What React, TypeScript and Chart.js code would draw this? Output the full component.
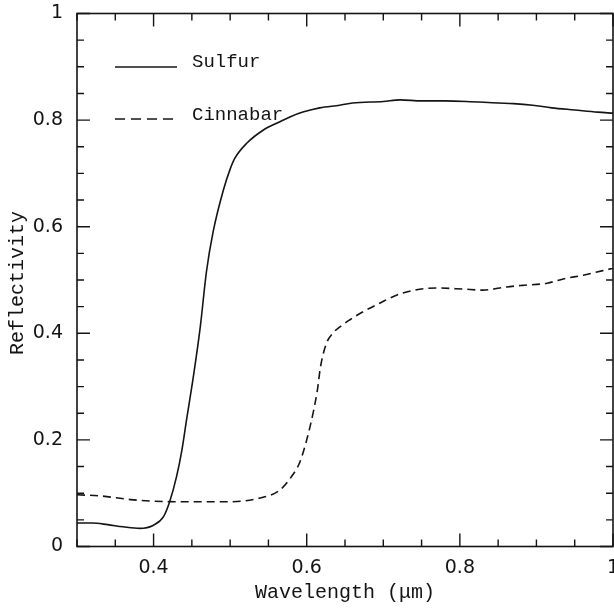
import React, { useEffect, useRef } from "react";
import { Chart, registerables } from "chart.js";

Chart.register(...registerables);

const sulfurWavelength = [
  0.3, 0.32, 0.34, 0.36, 0.382, 0.4, 0.413, 0.421, 0.43, 0.437, 0.443, 0.452,
  0.461, 0.469, 0.478, 0.491, 0.5, 0.506, 0.522, 0.543, 0.565, 0.578, 0.595,
  0.617, 0.643, 0.66, 0.7, 0.722, 0.75, 0.78, 0.809, 0.85, 0.87, 0.895, 0.92,
  0.95, 0.98, 1.0,
];
const sulfurReflectivity = [
  0.044, 0.044, 0.041, 0.037, 0.034, 0.04, 0.056, 0.084, 0.131, 0.181, 0.237,
  0.319, 0.412, 0.515, 0.592, 0.668, 0.708, 0.728, 0.757, 0.781, 0.797, 0.806,
  0.815, 0.823, 0.828, 0.832, 0.835, 0.838, 0.836, 0.836, 0.835, 0.832, 0.831,
  0.828, 0.823, 0.819, 0.815, 0.813,
];

const cinnabarWavelength = [
  0.3, 0.33, 0.37, 0.4, 0.45, 0.5, 0.539, 0.565, 0.582, 0.591, 0.6, 0.609,
  0.614, 0.618, 0.626, 0.634, 0.646, 0.656, 0.673, 0.696, 0.718, 0.741, 0.77,
  0.804, 0.83, 0.861, 0.882, 0.914, 0.935, 0.961, 0.979, 1.0,
];
const cinnabarReflectivity = [
  0.097, 0.095, 0.088, 0.085, 0.084, 0.084, 0.091, 0.106, 0.135, 0.158, 0.2,
  0.255, 0.294, 0.337, 0.382, 0.4, 0.415, 0.425, 0.44, 0.457, 0.472, 0.481,
  0.485, 0.483, 0.481, 0.487, 0.49, 0.494, 0.502, 0.509, 0.515, 0.522,
];

const xMajorTicks = [0.4, 0.6, 0.8, 1.0];
const yMajorTicks = [0, 0.2, 0.4, 0.6, 0.8, 1.0];
const minorStep = 0.05;
const seriesNames = ["Sulfur", "Cinnabar"];
const xTitle = "Wavelength (\u03bcm)";
const yTitle = "Reflectivity";

const INK = "#141414";
const MONO = "'Liberation Mono', 'DejaVu Sans Mono', monospace";
const SANS = "'DejaVu Sans', sans-serif";

const zeroPad = (s: any) => {
  s.paddingLeft = 0;
  s.paddingRight = 0;
  s.paddingTop = 0;
  s.paddingBottom = 0;
};

const framePlugin = {
  id: "frame",
  afterDraw(chart: any) {
    const { ctx, chartArea: a } = chart;
    const xs = chart.scales.x;
    const ys = chart.scales.y;
    ctx.save();
    ctx.strokeStyle = INK;
    ctx.lineWidth = 1.6;
    ctx.strokeRect(a.left, a.top, a.right - a.left, a.bottom - a.top);
    ctx.lineWidth = 1.4;
    const isMajor = (v: number, majors: number[]) =>
      majors.some((m) => Math.abs(m - v) < 1e-6);
    for (let i = 0; ; i++) {
      const v = xs.min + i * minorStep;
      if (v > xs.max + 1e-6) break;
      const px = xs.getPixelForValue(v);
      const len = isMajor(v, xMajorTicks) ? 13 : 7;
      ctx.beginPath();
      ctx.moveTo(px, a.bottom);
      ctx.lineTo(px, a.bottom - len);
      ctx.moveTo(px, a.top);
      ctx.lineTo(px, a.top + len);
      ctx.stroke();
    }
    for (let i = 0; ; i++) {
      const v = ys.min + i * minorStep;
      if (v > ys.max + 1e-6) break;
      const py = ys.getPixelForValue(v);
      const len = isMajor(v, yMajorTicks) ? 13 : 7;
      ctx.beginPath();
      ctx.moveTo(a.left, py);
      ctx.lineTo(a.left + len, py);
      ctx.moveTo(a.right, py);
      ctx.lineTo(a.right - len, py);
      ctx.stroke();
    }
    ctx.fillStyle = INK;
    ctx.font = `20px ${MONO}`;
    ctx.textAlign = "center";
    ctx.textBaseline = "middle";
    ctx.fillText(xTitle, (a.left + a.right) / 2, 593);
    ctx.save();
    ctx.translate(18, (a.top + a.bottom) / 2 + 3);
    ctx.rotate(-Math.PI / 2);
    ctx.fillText(yTitle, 0, 0);
    ctx.restore();
    const legendRows = [
      { y: 67, dash: [] as number[], textY: 62 },
      { y: 119, dash: [10, 6], textY: 115 },
    ];
    ctx.font = `19px ${MONO}`;
    ctx.textAlign = "left";
    legendRows.forEach((row, i) => {
      ctx.save();
      ctx.lineWidth = 1.4;
      ctx.setLineDash(row.dash);
      ctx.beginPath();
      ctx.moveTo(115, row.y);
      ctx.lineTo(177, row.y);
      ctx.stroke();
      ctx.restore();
      ctx.fillText(seriesNames[i], 192, row.textY);
    });
    ctx.restore();
  },
};

export default function App() {
  const ref = useRef<HTMLCanvasElement | null>(null);
  useEffect(() => {
    if (!ref.current) return;
    const chart = new Chart(ref.current, {
      type: "line",
      data: {
        datasets: [
          {
            label: seriesNames[0],
            data: sulfurWavelength.map((x, i) => ({ x, y: sulfurReflectivity[i] })),
            borderColor: INK,
            borderWidth: 1.6,
            pointRadius: 0,
            cubicInterpolationMode: "monotone",
            fill: false,
          },
          {
            label: seriesNames[1],
            data: cinnabarWavelength.map((x, i) => ({ x, y: cinnabarReflectivity[i] })),
            borderColor: INK,
            borderWidth: 1.6,
            borderDash: [8, 5],
            pointRadius: 0,
            cubicInterpolationMode: "monotone",
            fill: false,
          },
        ],
      },
      options: {
        animation: false,
        responsive: true,
        maintainAspectRatio: false,
        layout: { padding: { top: 13.5, right: 1, left: 0, bottom: 0 } },
        plugins: { legend: { display: false }, tooltip: { enabled: false } },
        scales: {
          x: {
            type: "linear",
            min: 0.3,
            max: 1.0,
            afterBuildTicks: (s: any) => {
              s.ticks = xMajorTicks.map((v) => ({ value: v }));
            },
            afterFit: (s: any) => {
              s.height = 61.5;
              zeroPad(s);
            },
            grid: { display: false, drawTicks: false },
            border: { display: false },
            ticks: {
              color: INK,
              padding: 10,
              maxRotation: 0,
              autoSkip: false,
              font: { family: SANS, size: 19 },
              callback: (v: any) => String(Math.round(Number(v) * 10) / 10),
            },
          },
          y: {
            type: "linear",
            min: 0,
            max: 1,
            afterBuildTicks: (s: any) => {
              s.ticks = yMajorTicks.map((v) => ({ value: v }));
            },
            afterFit: (s: any) => {
              s.width = 77;
              zeroPad(s);
            },
            grid: { display: false, drawTicks: false },
            border: { display: false },
            ticks: {
              color: INK,
              padding: 14,
              autoSkip: false,
              font: { family: SANS, size: 19 },
              callback: (v: any) => String(Math.round(Number(v) * 10) / 10),
            },
          },
        },
      },
      plugins: [framePlugin],
    });
    return () => chart.destroy();
  }, []);
  return (
    <div
      style={{
        position: "fixed",
        left: 0,
        top: 0,
        width: 614,
        height: 608,
        background: "#fff",
      }}
    >
      <canvas ref={ref} />
    </div>
  );
}
